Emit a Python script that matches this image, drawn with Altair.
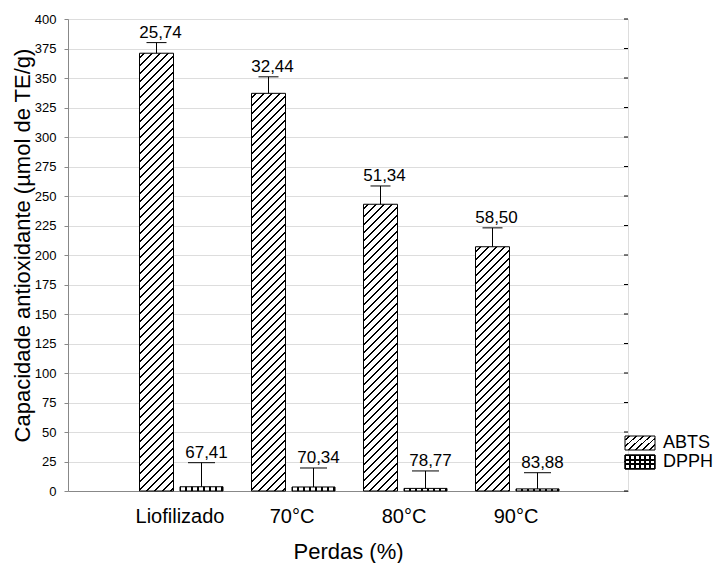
import altair as alt
import pandas as pd

# ---------------- data ----------------
categories = ["Liofilizado", "70°C", "80°C", "90°C"]
series = ["ABTS", "DPPH"]
abts = [371, 337, 243, 207]
abts_upper = [380, 351, 258.5, 223]
abts_labels = ["25,74", "32,44", "51,34", "58,50"]
dpph = [3.6, 3.4, 2.2, 1.8]
dpph_upper = [24, 19.5, 17, 15.5]
dpph_labels = ["67,41", "70,34", "78,77", "83,88"]
y_ticks = list(range(0, 401, 25))

# ---------------- style ----------------
FONT = "Liberation Sans"
W, H = 560, 472
YMAX = 400
ABTS_W, DPPH_W = 34, 43
ABTS_OFF, DPPH_OFF = -23.5, 21.5

df = pd.DataFrame({
    "cat": categories,
    "abts": abts, "abts_up": abts_upper, "abts_lbl": abts_labels,
    "dpph": dpph, "dpph_up": dpph_upper, "dpph_lbl": dpph_labels,
})
leg = pd.DataFrame({"series": series})


def hatch(w, h, period=8.0, thick=1.8):
    """45 degree '///' hatch as a linear gradient on a w x h box."""
    s = w + h
    k = s / (w * w + h * h)
    stops = [{"offset": 0, "color": "white"}]
    c = period * 0.5
    while c < s:
        t0 = c / s
        t1 = min((c + thick) / s, 1.0)
        stops += [
            {"offset": t0, "color": "white"},
            {"offset": t0, "color": "black"},
            {"offset": t1, "color": "black"},
            {"offset": t1, "color": "white"},
        ]
        c += period
    return {"gradient": "linear", "x1": 0, "y1": 0, "x2": w * k, "y2": h * k,
            "stops": stops}


def stripes(length, period, light_w, vertical_dir=False, light="white", dark="black"):
    stops = [{"offset": 0, "color": dark}]
    c = (period - light_w) / 2.0
    while c + light_w < length:
        t0 = c / length
        t1 = (c + light_w) / length
        stops += [
            {"offset": t0, "color": dark},
            {"offset": t0, "color": light},
            {"offset": t1, "color": light},
            {"offset": t1, "color": dark},
        ]
        c += period
    stops.append({"offset": 1, "color": dark})
    if vertical_dir:
        return {"gradient": "linear", "x1": 0, "y1": 0, "x2": 0, "y2": 1, "stops": stops}
    return {"gradient": "linear", "x1": 0, "y1": 0, "x2": 1, "y2": 0, "stops": stops}


xscale = alt.Scale(domain=categories, paddingInner=0, paddingOuter=0.5)
yscale = alt.Scale(domain=[0, YMAX], nice=False, zero=True)

xaxis = alt.Axis(title="Perdas (%)", labelAngle=0, ticks=False, tickSize=0,
                 labelFontSize=20, labelPadding=15, titleFontSize=22,
                 titleFontWeight="normal", titleFont=FONT, labelFont=FONT,
                 titleY=67, titleBaseline="alphabetic")
yaxis = alt.Axis(title="Capacidade antioxidante (µmol de TE/g)", values=y_ticks,
                 tickSize=4, labelFontSize=13, labelPadding=8,
                 titleFontSize=22, titleFontWeight="normal", titleFont=FONT, labelFont=FONT,
                 titleX=-46, titleY=226, titleBaseline="middle")

x_enc = alt.X("cat:N", scale=xscale, axis=xaxis, sort=categories)


def y_enc(field):
    return alt.Y(f"{field}:Q", scale=yscale, axis=yaxis)


base = alt.Chart(df)
layers = []

# ABTS bars (hatched), one layer each so each hatch is 45 degrees
for i, c in enumerate(categories):
    h_px = abts[i] * H / YMAX
    layers.append(
        base.transform_filter(alt.datum.cat == c)
        .mark_bar(width=ABTS_W, xOffset=ABTS_OFF, fill=hatch(ABTS_W, h_px),
                  stroke="black", strokeWidth=1)
        .encode(x=x_enc, y=y_enc("abts"))
    )

# DPPH bars (dotted)
layers.append(
    base.mark_bar(width=DPPH_W, xOffset=DPPH_OFF, fill=stripes(DPPH_W, 6, 3.5),
                  stroke="black", strokeWidth=1)
    .encode(x=x_enc, y=y_enc("dpph"))
)

# error bars
for val, up, off, cap in [("abts", "abts_up", ABTS_OFF, 20), ("dpph", "dpph_up", DPPH_OFF, 27)]:
    layers.append(
        base.mark_rule(color="black", strokeWidth=1, xOffset=off)
        .encode(x=x_enc, y=y_enc(val), y2=alt.Y2(f"{up}:Q"))
    )
    layers.append(
        base.mark_tick(color="black", size=cap, thickness=1, orient="horizontal",
                       xOffset=off, opacity=1)
        .encode(x=x_enc, y=y_enc(up))
    )

# value labels
for up, lbl, off in [("abts_up", "abts_lbl", ABTS_OFF + 4), ("dpph_up", "dpph_lbl", DPPH_OFF + 5)]:
    layers.append(
        base.mark_text(font=FONT, fontSize=17, color="black", align="center",
                       baseline="alphabetic", dy=-5, xOffset=off)
        .encode(x=x_enc, y=y_enc(up), text=f"{lbl}:N")
    )

# inward ticks on the right frame
layers.append(
    alt.Chart(pd.DataFrame({"t": y_ticks}))
    .mark_rule(color="black", strokeWidth=1)
    .encode(y=y_enc("t"), x=alt.value(W - 4), x2=alt.value(W))
)

# legend
lg = alt.Chart(leg)
layers.append(
    lg.transform_filter(alt.datum.series == "ABTS")
    .mark_rect(fill=hatch(30, 15, period=7), stroke="black", strokeWidth=1)
    .encode(x=alt.value(557), x2=alt.value(587), y=alt.value(417), y2=alt.value(431))
)
layers.append(
    lg.transform_filter(alt.datum.series == "DPPH")
    .mark_rect(fill=stripes(30, 5, 3), stroke="black", strokeWidth=1)
    .encode(x=alt.value(557), x2=alt.value(587), y=alt.value(436), y2=alt.value(450))
)
layers.append(
    lg.transform_filter(alt.datum.series == "DPPH")
    .mark_rect(fill=stripes(14, 4.7, 2.7, vertical_dir=True, light="rgba(0,0,0,0)"),
               stroke="black", strokeWidth=1)
    .encode(x=alt.value(557), x2=alt.value(587), y=alt.value(436), y2=alt.value(450))
)
for s_name, yv in [("ABTS", 424), ("DPPH", 443)]:
    layers.append(
        lg.transform_filter(alt.datum.series == s_name)
        .mark_text(font=FONT, fontSize=18, color="black", align="left", baseline="middle")
        .encode(x=alt.value(595), y=alt.value(yv), text="series:N")
    )

chart = (
    alt.layer(*layers)
    .properties(width=W, height=H, autosize="none",
                padding={"left": 68, "top": 19, "right": 85, "bottom": 72})
    .configure_view(stroke="black", strokeWidth=1)
    .configure_axis(grid=False, domainColor="black", tickColor="black",
                    labelColor="black", titleColor="black", labelFont=FONT,
                    titleFont=FONT, titleFontWeight="normal", domainWidth=1)
    .configure(background="white")
)

chart.save("out.html", embed_options={"renderer": "svg", "actions": False})
